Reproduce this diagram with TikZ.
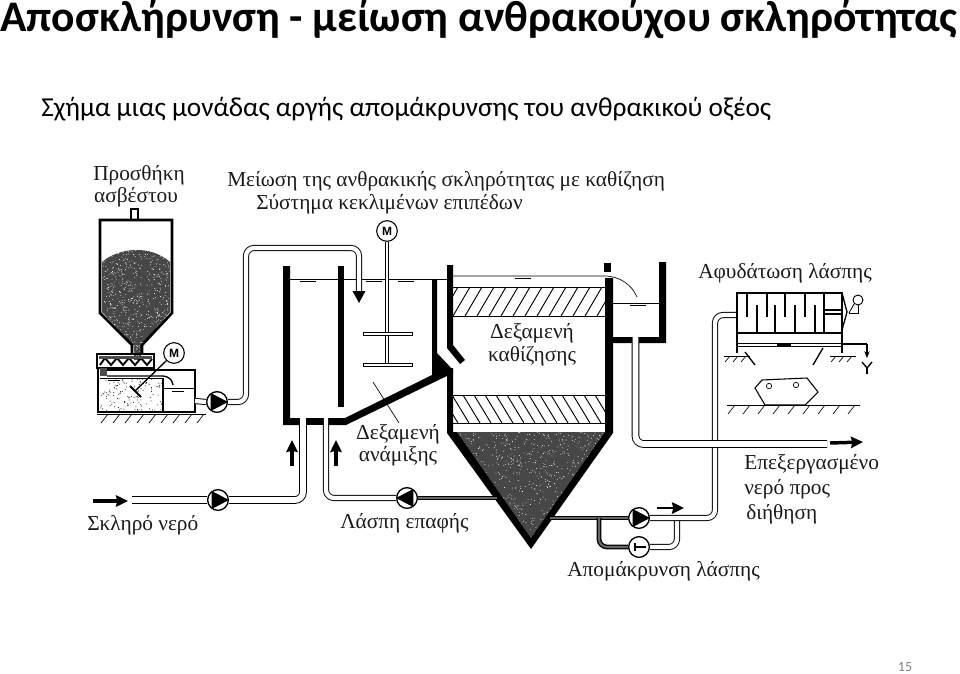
\documentclass[tikz,border=0pt]{standalone}
\usepackage{fontspec}
\setmainfont{Liberation Serif}
\newfontfamily\slidefont{Carlito}
\newfontfamily\motorfont{Liberation Sans}
\usetikzlibrary{arrows.meta}
\definecolor{inkgray}{HTML}{1A1A1A}
\tikzset{
  caption/.style={font=\fontsize{16}{19}\selectfont,text=inkgray,inner sep=0pt},
  pipe/.style={draw=black,line width=0.7pt,double=white,double distance=3.2pt,rounded corners=6pt},
  feedpipe/.style={pipe,double distance=4.4pt},
  sludgepipe/.style={pipe,double=black!60,line width=1pt,double distance=1.6pt},
  pump/.style={circle,draw=black,fill=white,line width=1pt,minimum size=15.5pt,inner sep=0pt},
  motor/.style={circle,draw=black,fill=white,line width=0.8pt,minimum size=15.5pt,inner sep=0pt,font=\motorfont\bfseries\fontsize{9}{9}\selectfont},
  flow/.style={line width=2.6pt,-{Stealth[length=9pt,width=8.5pt,inset=1pt]}},
  wall/.style={fill=black},
  vessel/.style={draw=black,line width=2pt},
  thinline/.style={draw=black,line width=0.5pt},
}
\begin{document}
\begin{tikzpicture}[x=0.75pt,y=-0.75pt]
\useasboundingbox (0,0) rectangle (960,674);
\pgfmathsetseed{15}

\node[anchor=base west,inner sep=0pt,font=\slidefont\bfseries\fontsize{32.7}{36}\selectfont] (title) at (0,32) {Αποσκλήρυνση - μείωση ανθρακούχου σκληρότητας};
\node[anchor=base west,inner sep=0pt,font=\slidefont\fontsize{20.5}{24}\selectfont] (subtitle) at (41,116) {Σχήμα μιας μονάδας αργής απομάκρυνσης του ανθρακικού οξέος};
\node[inner sep=0pt,text=black!50,font=\slidefont\fontsize{10.5}{12}\selectfont] (pagenumber) at (905,667) {15};

\node[caption] (lime1) at (139,175) {Προσθήκη};
\node[caption] (lime2) at (136,197) {ασβέστου};
\node[caption,anchor=base west] (head1) at (227,186) {Μείωση της ανθρακικής σκληρότητας με καθίζηση};
\node[caption,anchor=base west] (head2) at (256,209) {Σύστημα κεκλιμένων επιπέδων};
\node[caption,anchor=base west] (press) at (698,278) {Αφυδάτωση λάσπης};
\node[caption] (settle1) at (532,333) {Δεξαμενή};
\node[caption] (settle2) at (532,356) {καθίζησης};
\node[caption] (mix1) at (398,434) {Δεξαμενή};
\node[caption] (mix2) at (398,456) {ανάμιξης};
\node[caption,anchor=base west] (hardwater) at (87,530) {Σκληρό νερό};
\node[caption,anchor=base west] (contact) at (340,528) {Λάσπη επαφής};
\node[caption,anchor=base west] (treated1) at (744,469) {Επεξεργασμένο};
\node[caption,anchor=base west] (treated2) at (744,494) {νερό προς};
\node[caption,anchor=base west] (treated3) at (746,519) {διήθηση};
\node[caption,anchor=base west] (removal) at (567,576) {Απομάκρυνση λάσπης};

\fill[black!72] (102,262) .. controls (118,248) and (150,244) .. (170,262) -- (170,312) -- (141,346) -- (141,360) -- (134,360) -- (134,346) -- (102,312) -- cycle;
\begin{scope}
\clip (102,262) .. controls (118,248) and (150,244) .. (170,262) -- (170,312) -- (141,346) -- (141,360) -- (134,360) -- (134,346) -- (102,312) -- cycle;
\foreach \i in {1,...,700}
  \fill[white] (100+72*rnd,248+110*rnd) circle (0.45);
\end{scope}
\draw[vessel] (100,262) -- (100,220) -- (172,220) -- (172,313) -- (142,345) -- (142,354);
\draw[vessel] (100,262) -- (100,313) -- (132,345) -- (132,354);
\draw[line width=1pt] (131,220) -- (131,209) -- (138,209) -- (138,220);

\draw[vessel] (97,354) rectangle (154,368);
\draw[line width=1.4pt] (100,365) -- (105,358) -- (111,365) -- (117,358) -- (123,365) -- (129,358) -- (135,365) -- (141,358) -- (147,365) -- (152,359);
\fill[black!70] (99,356) rectangle (152,359);
\foreach \i in {1,...,130}
  \fill[black] (100+62*rnd,378+33*rnd) circle (0.5);
\draw[line width=1.8pt] (98,368) -- (98,412) -- (195,412) -- (195,370) -- (107,370);
\draw[line width=1pt] (107,376) -- (163,376) .. controls (170,377) and (172,380) .. (173,385);
\draw[line width=1.6pt] (163,378) -- (163,412);
\fill[black!70] (100,368) rectangle (107,376);
\draw[thinline] (163,388) -- (195,388);
\draw[thinline] (100,378) -- (163,378);
\foreach \x/\y in {108/380,172/391}
  \draw[line width=0.4pt] (\x,\y) -- (\x+12,\y);
\draw[line width=0.7pt] (97,414) -- (206,414);
\foreach \x in {108,120,...,204}
  \draw[thinline] (\x,414) -- (\x-7,423);

\node[motor] (motorlime) at (174,353) {M};
\draw[line width=1pt] (motorlime.225) -- (135,391);
\draw[line width=1.5pt] (130,386) -- (141,397);

\fill[wall] (283,266) -- (290,266) -- (290,418) -- (300,418) -- (300,425) -- (283,425) -- cycle;
\fill[wall] (306,418) rectangle (324,425);
\fill[wall] (338,266) rectangle (344,407);
\fill[wall] (432,280) -- (437,280) -- (437,353) -- (453,370) -- (453,373) -- (346,425) -- (329,425) -- (329,418) -- (345,418) -- (432,375) -- cycle;
\fill[wall] (447,265) -- (453,265) -- (453,345) -- (465,360) -- (460,364) -- (447,348) -- cycle;
\fill[black!72] (457,432) -- (606,432) -- (531,538) -- cycle;
\begin{scope}
\clip (457,432) -- (606,432) -- (531,538) -- cycle;
\foreach \i in {1,...,800}
  \fill[white] (457+150*rnd,432+106*rnd) circle (0.45);
\end{scope}
\fill[wall] (447,368) -- (447,433) -- (531,549) -- (613,433) -- (613,278) -- (605,278) -- (605,432) -- (531,538) -- (457,432) -- (453,432) -- (453,368) -- cycle;
\fill[wall] (604,263) rectangle (611,272);
\fill[wall] (613,337) -- (659,337) -- (659,262) -- (666,262) -- (666,343) -- (613,343) -- cycle;

\draw[thinline] (290,279) -- (447,279);
\draw[thinline] (453,276) -- (604,276) .. controls (620,276) and (632,285) .. (637,297);
\draw[thinline] (613,303) -- (659,303);
\foreach \x/\y in {300/281,366/281,398/281,515/278,630/305}
  \draw[line width=0.5pt] (\x,\y) -- (\x+16,\y);

\draw[thinline] (453,287) -- (605,287);
\draw[thinline] (453,316) -- (605,316);
\draw[thinline] (453,395) -- (605,395);
\draw[thinline] (453,423) -- (605,423);
\begin{scope}
\clip (453,287) rectangle (605,316);
\foreach \x in {441,453,...,597}
  \draw[line width=0.7pt] (\x,316) -- (\x+17,287);
\end{scope}
\begin{scope}
\clip (453,395) rectangle (605,423);
\foreach \x in {441,452,...,597}
  \draw[line width=0.7pt] (\x,395) -- (\x+17,423);
\end{scope}

\node[motor] (motormix) at (387,231) {M};
\draw[pipe,double distance=1.6pt,line width=0.6pt,rounded corners=0pt] (motormix.south) -- (387,365);
\foreach \y in {334,365}
  \draw[line width=0.6pt,fill=white] (363,\y-1.5) rectangle (412,\y+1.5);
\draw[thinline] (373,382) -- (399,423);

\node[pump] (pumplime) at (217,402) {};
\node[pump] (pumpfeed) at (218,500) {};
\node[pump] (pumpcontact) at (407,498) {};
\node[pump] (pumpout) at (639,518) {};
\node[pump] (pumpbypass) at (639,547) {};
\coordinate (limeout) at (195,401);
\coordinate (mixin) at (359,291);
\coordinate (feedstart) at (132,500);
\coordinate (feedin) at (303,418);
\coordinate (contactin) at (326,418);
\coordinate (conein) at (497,498);
\coordinate (coneout) at (550,518);
\coordinate (branch) at (599,518);
\coordinate (pressin) at (737,315);
\coordinate (channelout) at (635.5,337);
\coordinate (treatedend) at (827,444);
\coordinate (joinpoint) at (677,518);

\draw[pipe] (limeout) -- (pumplime.west);
\draw[pipe] (pumplime.east) -| (246,248) -| (mixin);
\draw[feedpipe] (feedstart) -- (pumpfeed.west);
\draw[feedpipe] (pumpfeed.east) -| (feedin);
\draw[pipe] (pumpcontact.west) -| (contactin);
\draw[sludgepipe] (pumpcontact.east) -- (conein);
\draw[sludgepipe] (coneout) -- (pumpout.west);
\draw[sludgepipe] (branch) |- (pumpbypass.west);
\draw[pipe] (pumpbypass.east) -| (joinpoint);
\draw[pipe] (pumpout.east) -| (715,315) -- (pressin);
\draw[feedpipe] (channelout) |- (treatedend);

\foreach \pumpname in {pumplime,pumpfeed,pumpout}
  \fill (\pumpname.125) -- (\pumpname.0) -- (\pumpname.235) -- cycle;
\fill (pumpcontact.55) -- (pumpcontact.180) -- (pumpcontact.305) -- cycle;
\draw[line width=0.9pt] (635,543) -- (635,551);
\draw[line width=0.9pt] (635,547) -- (646,547);

\fill (352.5,291) -- (365.5,291) -- (359,303) -- cycle;
\draw[flow] (93,501) -- (128,501);
\draw[flow] (292,466) -- (292,440);
\draw[flow] (336,466) -- (336,440);
\draw[flow] (830,443) -- (863,442);
\draw[flow,line width=2pt] (657,508) -- (684,508);

\draw[line width=1.6pt] (737,293) rectangle (842,333);
\foreach \x in {747,767,785,805}
  \draw[line width=0.8pt] (\x,293) -- (\x,317);
\foreach \x in {757,775,795,815}
  \draw[line width=0.8pt] (\x,333) -- (\x,305);
\draw[line width=1.6pt] (824,293) -- (824,333);
\draw[line width=0.8pt] (824,310) -- (842,310);
\draw[line width=0.8pt] (824,314) -- (842,314);
\draw[line width=1pt] (842,293) -- (847,312) -- (842,330);
\draw[line width=1.5pt] (737,333) -- (737,353);
\draw[line width=1.5pt] (842,333) -- (842,353);
\draw[line width=0.7pt] (737,343) -- (842,343);
\draw[line width=0.7pt] (737,346) -- (842,346);
\fill (777,343) rectangle (791,346);
\draw[line width=0.8pt] (842,344) -- (867,344);
\draw[line width=0.8pt,-{Stealth[length=5pt,width=4pt]}] (867,344) -- (867,358);
\draw[line width=1pt] (862,362) -- (867,368) -- (872,362);
\draw[line width=1pt] (867,368) -- (867,374);
\node[circle,draw=black,line width=0.7pt,minimum size=7.5pt,inner sep=0pt] (gauge) at (858,300) {};
\draw[line width=0.6pt] (849,313) -- (gauge.225);
\draw[line width=0.6pt] (849,313) -- (858,313) -- (gauge.south);
\draw[line width=0.7pt] (724,356) -- (750,356);
\draw[line width=0.7pt] (830,356) -- (856,356);
\foreach \x in {730,738,746,836,844,852}
  \draw[thinline] (\x,356) -- (\x-5,362);
\draw[line width=1pt] (745,352) -- (755,365);
\draw[line width=1pt] (823,348) -- (813,365);
\draw[line width=0.8pt] (755,388) -- (762,380) -- (807,378) -- (818,392) -- (805,405) -- (765,405) -- cycle;
\node[circle,draw=black,line width=0.5pt,minimum size=4pt,inner sep=0pt] (wheelleft) at (769,386) {};
\node[circle,draw=black,line width=0.5pt,minimum size=4pt,inner sep=0pt] (wheelright) at (796,385) {};
\draw[line width=0.7pt] (727,405) -- (860,405);
\foreach \x in {735,750,...,855}
  \draw[thinline] (\x,405) -- (\x-7,414);
\end{tikzpicture}
\end{document}
